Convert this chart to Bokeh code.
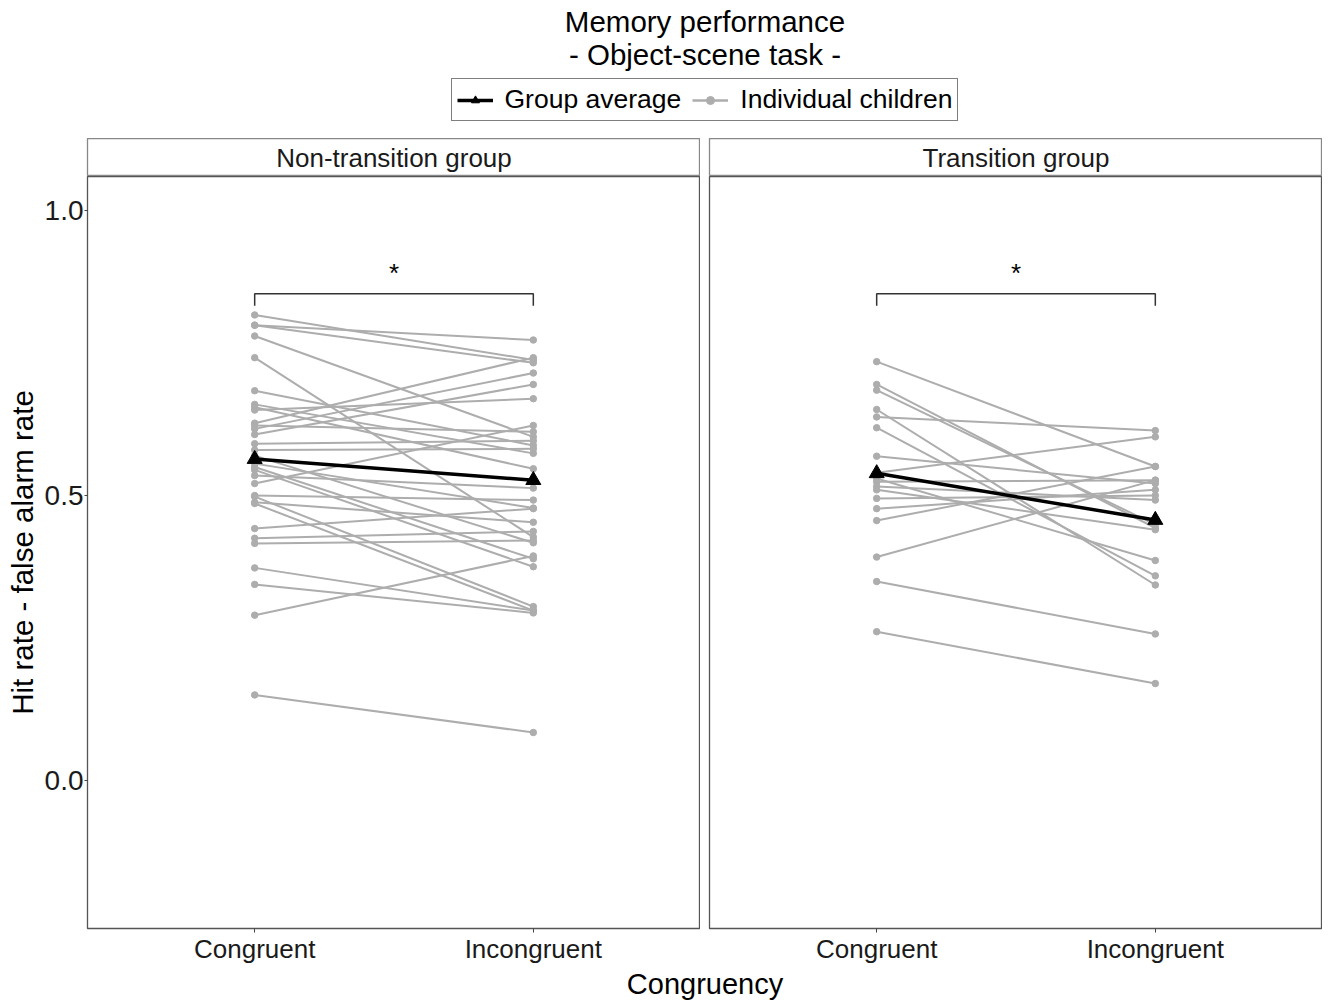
from bokeh.plotting import figure
from bokeh.models import Range1d, FactorRange, FixedTicker, Label, Legend, LegendItem, NumeralTickFormatter
from bokeh.layouts import column, row
from bokeh.embed import file_html
from bokeh.resources import INLINE

# ---------------- data ----------------
conditions = ["Congruent", "Incongruent"]
groups = ["Non-transition group", "Transition group"]

nt_congruent = [0.817, 0.799, 0.799, 0.780, 0.742, 0.684, 0.660, 0.655, 0.650, 0.627,
                0.623, 0.617, 0.607, 0.591, 0.580, 0.570, 0.556, 0.550, 0.545, 0.535,
                0.521, 0.500, 0.498, 0.488, 0.486, 0.442, 0.425, 0.416, 0.373, 0.344,
                0.290, 0.150]
nt_incongruent = [0.738, 0.773, 0.733, 0.603, 0.427, 0.588, 0.574, 0.547, 0.670, 0.742,
                  0.612, 0.715, 0.695, 0.596, 0.582, 0.417, 0.478, 0.389, 0.375, 0.513,
                  0.623, 0.492, 0.305, 0.453, 0.298, 0.477, 0.437, 0.421, 0.298, 0.294,
                  0.394, 0.084]

t_congruent = [0.735, 0.695, 0.685, 0.651, 0.638, 0.619, 0.569, 0.540, 0.530, 0.524,
               0.516, 0.495, 0.477, 0.456, 0.392, 0.349, 0.261, 0.510]
t_incongruent = [0.551, 0.443, 0.449, 0.343, 0.614, 0.359, 0.521, 0.603, 0.386, 0.527,
                 0.492, 0.500, 0.510, 0.551, 0.527, 0.257, 0.170, 0.440]

avg_nontransition = [0.564, 0.527]
avg_transition = [0.539, 0.457]

y_ticks = [0.0, 0.5, 1.0]
sig_bracket_y = 0.854
sig_bracket_tip = 0.833
sig_star_y = 0.89
sig_label = "*"

title_lines = ["Memory performance", "- Object-scene task -"]
y_label = "Hit rate - false alarm rate"
x_label = "Congruency"
legend_labels = ["Group average", "Individual children"]

# ---------------- style ----------------
FONT = "Liberation Sans"
TXT = "#1a1a1a"
GREY = "#ADADAD"
BORDER = "#555555"
FRAME_W = 613
FRAME_H = 752
LEFT_B = 87
GAP = 9
HEADER_H = 138
STRIP_H = 38
BOTTOM_B = 34
FOOTER_H = 34
TOTAL_W = LEFT_B + FRAME_W + GAP + FRAME_W
CENTER = LEFT_B + (2 * FRAME_W + GAP) / 2


def make_strip(text, left):
    s = figure(frame_width=FRAME_W, frame_height=STRIP_H,
               x_range=Range1d(0, 1), y_range=Range1d(0, 1),
               min_border_left=LEFT_B if left else GAP, min_border_right=0,
               min_border_top=0, min_border_bottom=0,
               x_axis_location=None, y_axis_location=None,
               output_backend="svg", toolbar_location=None)
    s.xgrid.visible = False
    s.ygrid.visible = False
    s.outline_line_color = "#888888"
    s.outline_line_width = 1.3
    s.add_layout(Label(x=0.5, y=0.5, text=text, text_align="center", text_baseline="middle",
                       text_font=FONT, text_font_size="26px", text_color=TXT))
    return s


def make_panel(cong, incong, avg, left):
    p = figure(x_range=FactorRange(*conditions, range_padding=0.1, range_padding_units="absolute"),
               y_range=Range1d(-0.26, 1.06),
               frame_width=FRAME_W, frame_height=FRAME_H,
               min_border_left=LEFT_B if left else GAP, min_border_right=0,
               min_border_top=0, min_border_bottom=BOTTOM_B,
               output_backend="svg", toolbar_location=None)
    p.xgrid.visible = False
    p.ygrid.visible = False
    p.outline_line_color = BORDER
    p.outline_line_width = 1.3

    n = len(cong)
    p.segment(x0=[conditions[0]] * n, y0=cong, x1=[conditions[1]] * n, y1=incong,
              line_color=GREY, line_width=2)
    p.scatter(x=[conditions[0]] * n + [conditions[1]] * n, y=list(cong) + list(incong),
              size=6.5, color=GREY)
    p.line(x=conditions, y=avg, line_color="black", line_width=3.5)
    p.scatter(x=conditions, y=avg, marker="triangle", size=15, color="black")

    p.line(x=[conditions[0], conditions[0], conditions[1], conditions[1]],
           y=[sig_bracket_tip, sig_bracket_y, sig_bracket_y, sig_bracket_tip],
           line_color="#333333", line_width=1.5)
    p.add_layout(Label(x=1.0, y=sig_star_y, text=sig_label, text_align="center",
                       text_baseline="middle", text_font=FONT, text_font_size="26px",
                       text_color="black"))

    for ax in p.xaxis:
        ax.major_label_text_font = FONT
        ax.major_label_text_font_size = "26px"
        ax.major_label_text_color = TXT
        ax.major_tick_out = 4
        ax.major_tick_in = 0
        ax.major_tick_line_color = "#444444"
        ax.axis_line_color = None
        ax.major_label_standoff = 1

    if left:
        for ax in p.yaxis:
            ax.ticker = FixedTicker(ticks=y_ticks)
            ax.formatter = NumeralTickFormatter(format="0.0")
            ax.minor_tick_line_color = None
            ax.major_tick_out = 3
            ax.major_tick_in = 0
            ax.major_tick_line_color = "#444444"
            ax.axis_line_color = None
            ax.major_label_text_font = FONT
            ax.major_label_text_font_size = "28px"
            ax.major_label_text_color = TXT
            ax.major_label_standoff = 1
            ax.axis_label = y_label
            ax.axis_label_text_font = FONT
            ax.axis_label_text_font_size = "29.5px"
            ax.axis_label_text_font_style = "normal"
            ax.axis_label_text_color = "black"
            ax.axis_label_standoff = 3
    else:
        p.yaxis.visible = False
    return p


# header: title + legend
header = figure(width=TOTAL_W, height=HEADER_H, x_range=Range1d(0, 10), y_range=Range1d(0, 10),
                min_border=0, x_axis_location=None, y_axis_location=None,
                output_backend="svg", toolbar_location=None)
header.xgrid.visible = False
header.ygrid.visible = False
header.outline_line_color = None
header.add_layout(Label(x=CENTER, y=HEADER_H - 21, x_units="screen", y_units="screen",
                        text=title_lines[0], text_align="center", text_baseline="middle",
                        text_font=FONT, text_font_size="29.5px", text_color="black"))
header.add_layout(Label(x=CENTER, y=HEADER_H - 54, x_units="screen", y_units="screen",
                        text=title_lines[1], text_align="center", text_baseline="middle",
                        text_font=FONT, text_font_size="29.5px", text_color="black"))
# legend-only renderers, placed outside the visible range
off_x = [-20, -10]
off_y = [-20, -20]
r1 = header.line(x=off_x, y=off_y, line_color="black", line_width=3.5)
r2 = header.scatter(x=off_x, y=off_y, marker="triangle", size=13, color="black")
r3 = header.line(x=off_x, y=off_y, line_color=GREY, line_width=2.5)
r4 = header.scatter(x=off_x, y=off_y, size=8, color=GREY)
LEG_W = 508
legend = Legend(items=[LegendItem(label=legend_labels[0], renderers=[r1, r2]),
                       LegendItem(label=legend_labels[1], renderers=[r3, r4])],
                orientation="horizontal", location=(CENTER - LEG_W / 2, HEADER_H - 121),
                border_line_color="black", border_line_width=1.5,
                label_text_font=FONT, label_text_font_size="26.5px", label_text_color="black",
                glyph_width=36, glyph_height=20, label_standoff=12, spacing=11,
                padding=5, margin=0, background_fill_alpha=1.0)
header.add_layout(legend, "center")

footer = figure(width=TOTAL_W, height=FOOTER_H, x_range=Range1d(0, 10), y_range=Range1d(0, 10),
                min_border=0, x_axis_location=None, y_axis_location=None,
                output_backend="svg", toolbar_location=None)
footer.xgrid.visible = False
footer.ygrid.visible = False
footer.outline_line_color = None
footer.add_layout(Label(x=CENTER, y=FOOTER_H / 2, x_units="screen", y_units="screen",
                        text=x_label, text_align="center", text_baseline="middle",
                        text_font=FONT, text_font_size="29px", text_color="black"))

strip_l = make_strip(groups[0], True)
strip_r = make_strip(groups[1], False)
panel_l = make_panel(nt_congruent, nt_incongruent, avg_nontransition, True)
panel_r = make_panel(t_congruent, t_incongruent, avg_transition, False)

layout = column(header,
                row(column(strip_l, panel_l), column(strip_r, panel_r)),
                footer)

open("out.html", "w").write(file_html(layout, INLINE))
